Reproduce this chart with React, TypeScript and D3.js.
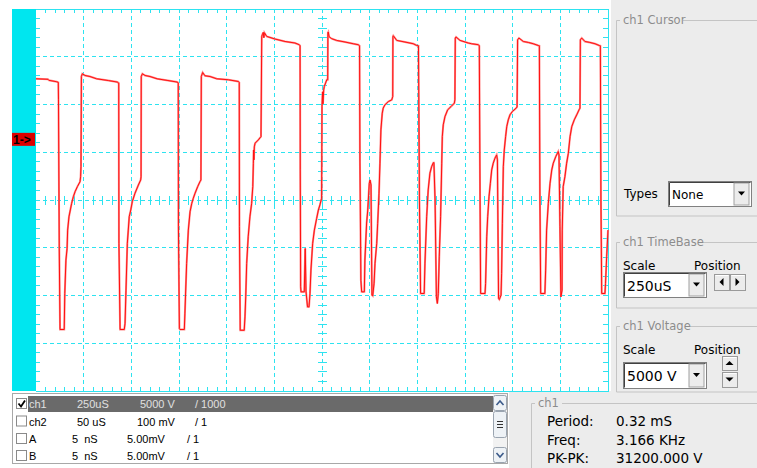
import React from 'react';
import * as d3 from 'd3';

// ---- Waveform data (ch1), time in µs, voltage in V ----
const waveTimeUs = [
  0, 63, 68, 109, 117, 118, 122, 126, 126, 148, 151, 157, 163, 166, 173, 180, 187, 196, 205, 217, 231, 234, 236, 238, 243, 257, 283, 318, 379, 426, 434, 435, 441, 463, 467, 472, 479, 484, 489, 497, 505, 519, 537, 549, 551, 552, 558, 572, 598, 635, 692, 740, 746, 747, 752, 755, 778, 781, 790, 799, 808, 817, 825, 834, 848, 860, 865, 867, 874, 886, 913, 948, 1009, 1061, 1066, 1067, 1071, 1092, 1096, 1100, 1105, 1113, 1122, 1131, 1137, 1140, 1141, 1143, 1145, 1149, 1166, 1180, 1184, 1187, 1192, 1195, 1198, 1210, 1253, 1306, 1358, 1381, 1385, 1386, 1388, 1390, 1407, 1412, 1416, 1424, 1432, 1437, 1442, 1451, 1460, 1472, 1481, 1489, 1498, 1500, 1503, 1505, 1509, 1512, 1525, 1530, 1531, 1533, 1537, 1551, 1577, 1621, 1664, 1690, 1697, 1699, 1704, 1708, 1722, 1725, 1734, 1740, 1743, 1748, 1752, 1757, 1762, 1766, 1773, 1778, 1787, 1792, 1799, 1804, 1809, 1816, 1821, 1830, 1848, 1866, 1871, 1872, 1874, 1892, 1935, 1979, 1997, 2006, 2011, 2017, 2036, 2040, 2049, 2057, 2066, 2075, 2084, 2087, 2093, 2100, 2105, 2110, 2115, 2122, 2128, 2131, 2136, 2145, 2159, 2177, 2194, 2197, 2199, 2203, 2224, 2267, 2285, 2320, 2325, 2329, 2332, 2355, 2358, 2364, 2369, 2376, 2383, 2390, 2398, 2407, 2416, 2420, 2426, 2430, 2439, 2442, 2446, 2451, 2456, 2463, 2469, 2477, 2486, 2498, 2512, 2523, 2526, 2533, 2556, 2582, 2608, 2634, 2640, 2643, 2647, 2669, 2673, 2678, 2687, 2696, 2705, 2713, 2726, 2739, 2743, 2748, 2753, 2759, 2760, 2765, 2774, 2783, 2792, 2801, 2810, 2823, 2836, 2848, 2853, 2855, 2862, 2879, 2905, 2932, 2954, 2960, 2963, 2967, 2984, 2987, 2993, 3000,
];
const waveVolts = [
  12690, 12640, 12530, 12380, 12320, 10490, -5030, -13430, -13560, -13560, -9790, -6290, -5070, -3150, -1750, -1050, -350, 350, 870, 1400, 1920, 2440, 3490, 12930, 13220, 13040, 12930, 12690, 12510, 12350, 12240, -4540, -13560, -13560, -12930, -9440, -4540, -3150, -1750, -1050, -180, 700, 1570, 2100, 2440, 12930, 13220, 13040, 12930, 12690, 12510, 12350, 12270, -2800, -13460, -13560, -13560, -11850, -6640, -3150, -1230, -350, 180, 700, 1400, 1920, 2100, 12930, 13350, 13010, 12930, 12690, 12590, 12410, 12320, -2800, -13640, -13640, -12240, -10140, -6640, -3850, -1750, -350, 1400, 3850, 5240, 4200, 5560, 5950, 6290, 6640, 17130, 17310, 17550, 16990, 17520, 17130, 16860, 16600, 16440, 16260, 16150, 3150, -9090, -9620, -9620, -5070, -9540, -11190, -11190, -9790, -7340, -4540, -3150, -1920, -1050, -520, 180, 9790, 11330, 10070, 11540, 11880, 12590, 12590, 17520, 17590, 17100, 16890, 16710, 16540, 16360, 16260, 16150, 3880, -8390, -9620, -9620, -6290, -2410, -1050, 0, 1750, 2100, 1570, -9960, -10040, -8740, -6640, -4540, -2440, 700, 3850, 7340, 9090, 9620, 9960, 10310, 10490, 10840, 17100, 17200, 16710, 16540, 16360, 16180, 16150, 0, -9790, -9790, -6610, -1750, 1050, 2800, 3490, 3910, 3910, 0, -10140, -10840, -9790, -5950, -1750, 3850, 6640, 7870, 8740, 9440, 9790, 10140, 10490, 16960, 17070, 16710, 16440, 16360, 16260, 16150, 0, -9790, -9790, -8740, -3850, -1750, 350, 1750, 3150, 3850, 4370, 4720, 4200, -10310, -10420, -9960, -7690, -2440, 3490, 5240, 6640, 7690, 8390, 8920, 9260, 9510, 9720, 16780, 16960, 16600, 16500, 16360, 16180, 16150, 0, -9790, -9790, -7340, -3150, -350, 1750, 3150, 3850, 4540, 5070, 4720, -2800, -10140, -9440, -3150, 1400, 2440, 3850, 4900, 6640, 7690, 8390, 8920, 9440, 9620, 16780, 16960, 16600, 16500, 16360, 16180, 16150, 0, -9790, -9790, -8740, -5950, -3150,
];

// ---- Scope settings ----
const timePerDivUs = 250;
const voltPerDiv = 5000;
const hDivs = 12;
const vDivs = 8;
const minorPerDiv = 5;
const ch1OffsetVolts = 6350;

// ---- Channel list ----
const listNames = ['ch1', 'ch2', 'A', 'B'];
const listChecked = [true, false, false, false];
const listTimes = ['250uS', '50 uS', '5  nS', '5  nS'];
const listVolts = ['5000 V', '100 mV', '5.00mV', '5.00mV'];
const listProbes = ['/ 1000', '/ 1', '/ 1', '/ 1'];

// ---- Measurements ----
const measLabels = ['Period:', 'Freq:', 'PK-PK:'];
const measValues = ['0.32 mS', '3.166 KHz', '31200.000 V'];

const UI = 'DejaVu Sans, Verdana, sans-serif';
const LIST = 'Liberation Sans, Arial, sans-serif';
const GRID = '#2de3f0';
const STRIP = '#00e6ef';

function GroupBox({ x, y, h, title, tw }: { x: number; y: number; h: number; title: string; tw: number }) {
  const r = 760;
  return (
    <g>
      <path d={`M${x + 4},${y + 0.5} H${x + 0.5} V${y + h} H${r}`} fill="none" stroke="#c4c4c4" />
      <line x1={x + 7 + tw} x2={r} y1={y + 0.5} y2={y + 0.5} stroke="#c4c4c4" />
      <text x={x + 7} y={y} dominantBaseline="central" fontFamily={UI} fontSize={11.5} fill="#8c8c8c">{title}</text>
    </g>
  );
}

function Combo({ x, y, w, h, text, fs }: { x: number; y: number; w: number; h: number; text: string; fs: number }) {
  const bx = x + w - 17;
  const cy = y + h / 2;
  return (
    <g>
      <rect x={x + 0.5} y={y + 0.5} width={w} height={h} fill="#fff" stroke="#808080" />
      <line x1={x + 1.5} x2={x + w - 0.5} y1={y + 1.5} y2={y + 1.5} stroke="#404040" />
      <line x1={x + 1.5} x2={x + 1.5} y1={y + 1.5} y2={y + h - 0.5} stroke="#404040" />
      <rect x={bx} y={y + 2} width={15} height={h - 3} fill="#ececec" stroke="#a0a0a0" />
      <path d={`M${bx + 4},${cy - 2} h7 l-3.5,4 z`} fill="#000" />
      <text x={x + 4} y={cy + 1} dominantBaseline="central" fontFamily={UI} fontSize={fs} fill="#000">{text}</text>
    </g>
  );
}

function Btn({ x, y, w, h, dir }: { x: number; y: number; w: number; h: number; dir: 'l' | 'r' | 'u' | 'd' }) {
  const cx = x + w / 2;
  const cy = y + h / 2;
  let d = '';
  if (dir === 'l') d = `M${cx + 2},${cy - 4} v8 l-4,-4 z`;
  if (dir === 'r') d = `M${cx - 2},${cy - 4} v8 l4,-4 z`;
  if (dir === 'u') d = `M${cx - 4},${cy + 2} h8 l-4,-4 z`;
  if (dir === 'd') d = `M${cx - 4},${cy - 2} h8 l-4,4 z`;
  return (
    <g>
      <rect x={x + 0.5} y={y + 0.5} width={w} height={h} fill="#ececec" stroke="#9a9a9a" />
      <line x1={x + 1.5} x2={x + w - 0.5} y1={y + 1.5} y2={y + 1.5} stroke="#fff" />
      <path d={d} fill="#000" />
    </g>
  );
}

export default function App() {
  const left = 36, right = 608, top = 9, bottom = 391;
  const x = d3.scaleLinear().domain([0, timePerDivUs * hDivs]).range([left, right]);
  const y = d3.scaleLinear().domain([-voltPerDiv * vDivs / 2, voltPerDiv * vDivs / 2]).range([bottom, top]);

  const pts: [number, number][] = waveTimeUs.map((t, i) => [t, waveVolts[i]]);
  const line = d3.line<[number, number]>().x(d => x(d[0])).y(d => y(d[1]));
  const path = line(pts) || '';

  const majorX = d3.range(1, hDivs).map(k => k * timePerDivUs);
  const majorY = d3.range(1, vDivs).map(k => -voltPerDiv * vDivs / 2 + k * voltPerDiv);
  const minorX = d3.range(1, hDivs * minorPerDiv).map(k => (k * timePerDivUs) / minorPerDiv);
  const minorY = d3.range(1, vDivs * minorPerDiv).map(k => -voltPerDiv * vDivs / 2 + (k * voltPerDiv) / minorPerDiv);
  const cX = x(timePerDivUs * hDivs / 2);
  const cY = y(0);

  const rowY = [404, 421.5, 439, 456];
  const colT = [77, 77, 72, 72];
  const colV = [140, 137, 127, 127];
  const colP = [195, 195, 187, 187];

  const markY = y(ch1OffsetVolts);

  return (
    <svg width={757} height={468} style={{ position: 'fixed', left: 0, top: 0 }} xmlns="http://www.w3.org/2000/svg">
      <rect x={0} y={0} width={757} height={468} fill="#fff" />
      {/* right panel backgrounds */}
      <rect x={611} y={0} width={146} height={468} fill="#ececec" />
      <rect x={509} y={391} width={248} height={77} fill="#ececec" />

      {/* plot */}
      <rect x={12} y={top} width={left - 12} height={bottom - top} fill={STRIP} />
      <g stroke={GRID} strokeWidth={1} shapeRendering="crispEdges">
        {majorX.map(v => (
          <line key={'mx' + v} x1={x(v)} x2={x(v)} y1={top} y2={bottom} strokeDasharray="4,3" />
        ))}
        {majorY.map(v => (
          <line key={'my' + v} x1={left} x2={right} y1={y(v)} y2={y(v)} strokeDasharray="4,3" />
        ))}
        {minorX.map(v => (
          <g key={'tx' + v}>
            <line x1={x(v)} x2={x(v)} y1={top} y2={top + 4} />
            <line x1={x(v)} x2={x(v)} y1={bottom - 4} y2={bottom} />
            <line x1={x(v)} x2={x(v)} y1={cY - 4} y2={cY + 5} />
          </g>
        ))}
        {minorY.map(v => (
          <g key={'ty' + v}>
            <line x1={left} x2={left + 4} y1={y(v)} y2={y(v)} />
            <line x1={right - 5} x2={right} y1={y(v)} y2={y(v)} />
            <line x1={cX - 4} x2={cX + 5} y1={y(v)} y2={y(v)} />
          </g>
        ))}
        <line x1={left} x2={right + 1} y1={top} y2={top} />
        <line x1={left} x2={right + 1} y1={bottom} y2={bottom} />
        <line x1={right} x2={right} y1={top} y2={bottom} />
      </g>
      <path d={path} fill="none" stroke="#ff8a8a" strokeWidth={2} strokeLinejoin="miter" />
      <path d={path} fill="none" stroke="#ff1010" strokeWidth={1} />

      {/* ch1 marker */}
      <rect x={12} y={markY - 6.5} width={23} height={13} fill="#dc0000" />
      <text x={13} y={markY + 0.5} dominantBaseline="central" fontFamily={LIST} fontSize={12} fontWeight="bold" fill="#000">1-&gt;</text>

      {/* channel list */}
      <rect x={12.5} y={393.5} width={495} height={70} fill="#fff" stroke="#a8a8a8" />
      <rect x={28} y={396} width={465} height={16} fill="#6a6a6a" />
      {listNames.map((n, i) => (
        <g key={n + i}>
          <rect x={16.5} y={rowY[i] - 5.5} width={10} height={10} fill="#fff" stroke="#8a8a8a" />
          {listChecked[i] && (
            <path d={`M18.5,${rowY[i] - 0.5} l2.5,3 l4,-6`} fill="none" stroke="#000" strokeWidth={1.8} />
          )}
          <g fontFamily={LIST} fontSize={11} fill={i === 0 ? '#e0e0e0' : '#000'} dominantBaseline="central">
            <text x={29} y={rowY[i]}>{n}</text>
            <text x={colT[i]} y={rowY[i]} style={{ whiteSpace: 'pre' }}>{listTimes[i]}</text>
            <text x={colV[i]} y={rowY[i]}>{listVolts[i]}</text>
            <text x={colP[i]} y={rowY[i]}>{listProbes[i]}</text>
          </g>
        </g>
      ))}
      {/* scrollbar */}
      <rect x={493} y={394} width={14} height={69} fill="#f2f2f2" />
      <rect x={493.5} y={395.5} width={13} height={15} fill="#eef2f6" stroke="#9aa4b0" rx={2} />
      <path d="M496.5,405 l3.5,-4 l3.5,4" fill="none" stroke="#3b5a8a" strokeWidth={1.6} />
      <rect x={493.5} y={411.5} width={13} height={26} fill="#eef2f6" stroke="#9aa4b0" rx={2} />
      <path d="M497,421.5 h6 M497,424.5 h6 M497,427.5 h6" stroke="#333" strokeWidth={1} />
      <rect x={493.5} y={447.5} width={13} height={15} fill="#eef2f6" stroke="#9aa4b0" rx={2} />
      <path d="M496.5,453 l3.5,4 l3.5,-4" fill="none" stroke="#3b5a8a" strokeWidth={1.6} />

      {/* right-side controls */}
      <GroupBox x={616} y={20} h={196} title="ch1 Cursor" tw={60} />
      <text x={624} y={194} dominantBaseline="central" fontFamily={UI} fontSize={12} fill="#000">Types</text>
      <Combo x={668} y={181} w={83} h={25} text="None" fs={12} />

      <GroupBox x={616} y={242} h={66} title="ch1 TimeBase" tw={76} />
      <text x={623} y={266} dominantBaseline="central" fontFamily={UI} fontSize={12} fill="#000">Scale</text>
      <text x={694} y={266} dominantBaseline="central" fontFamily={UI} fontSize={12} fill="#000">Position</text>
      <Combo x={623} y={272} w={83} h={25} text="250uS" fs={14} />
      <Btn x={714} y={274} w={15} h={16} dir="l" />
      <Btn x={730} y={274} w={15} h={16} dir="r" />

      <GroupBox x={616} y={326} h={66} title="ch1 Voltage" tw={63} />
      <text x={623} y={350} dominantBaseline="central" fontFamily={UI} fontSize={12} fill="#000">Scale</text>
      <text x={694} y={350} dominantBaseline="central" fontFamily={UI} fontSize={12} fill="#000">Position</text>
      <Combo x={623} y={362} w={83} h={26} text="5000 V" fs={14} />
      <Btn x={722} y={356} w={15} h={14} dir="u" />
      <Btn x={722} y={372} w={15} h={15} dir="d" />

      <GroupBox x={531} y={403} h={80} title="ch1" tw={24} />
      {measLabels.map((l, i) => (
        <g key={l} fontFamily={UI} fontSize={13.5} fill="#000">
          <text x={547} y={421 + i * 18.5} dominantBaseline="central">{l}</text>
          <text x={616} y={421 + i * 18.5} dominantBaseline="central">{measValues[i]}</text>
        </g>
      ))}
    </svg>
  );
}
